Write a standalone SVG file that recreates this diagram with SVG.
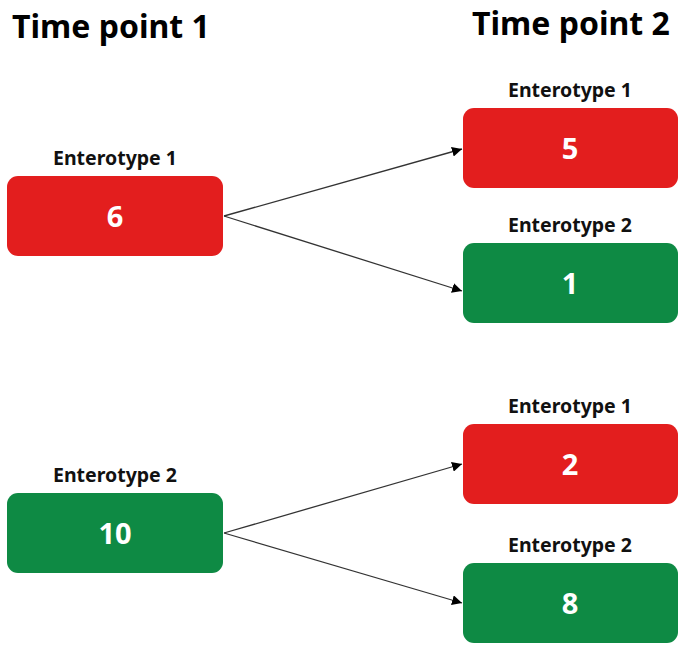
<svg xmlns="http://www.w3.org/2000/svg" width="686" height="649" viewBox="0 0 686 649">
<defs>
<style>
.title{font-family:"Noto Sans","Liberation Sans",sans-serif;font-weight:bold;font-size:32px;fill:#000}
.lbl{font-family:"Noto Sans","Liberation Sans",sans-serif;font-weight:bold;font-size:19.5px;fill:#111;text-anchor:middle}
.num{font-family:"Noto Sans","Liberation Sans",sans-serif;font-weight:bold;font-size:29px;fill:#fff;text-anchor:middle}
.red{fill:#E31E1E}
.green{fill:#0E8A44}
.conn{stroke:#333;stroke-width:1.3;fill:none;marker-end:url(#ah)}
</style>
<marker id="ah" viewBox="0 0 10 10" refX="10" refY="5" markerWidth="10" markerHeight="10" markerUnits="userSpaceOnUse" orient="auto">
<path d="M0,0 L10,5 L0,10 z" fill="#000"/>
</marker>
</defs>
<rect width="686" height="649" fill="#fff"/>
<text class="title" x="12" y="38">Time point 1</text>
<text class="title" x="472" y="35">Time point 2</text>
<g id="connectors">
<line class="conn" x1="224" y1="216" x2="462" y2="149"/>
<line class="conn" x1="224" y1="216" x2="462" y2="291"/>
<line class="conn" x1="224" y1="533" x2="462" y2="464"/>
<line class="conn" x1="224" y1="533" x2="462" y2="603"/>
</g>
<g id="t1-e1">
<text class="lbl" x="115" y="165">Enterotype 1</text>
<rect class="red" x="7" y="176" width="216" height="80" rx="11"/>
<text class="num" x="115" y="227">6</text>
</g>
<g id="t1-e2">
<text class="lbl" x="115" y="482">Enterotype 2</text>
<rect class="green" x="7" y="493" width="216" height="80" rx="11"/>
<text class="num" x="115" y="544">10</text>
</g>
<g id="t2-a-e1">
<text class="lbl" x="570" y="97">Enterotype 1</text>
<rect class="red" x="463" y="108" width="215" height="80" rx="11"/>
<text class="num" x="570" y="159">5</text>
</g>
<g id="t2-a-e2">
<text class="lbl" x="570" y="232">Enterotype 2</text>
<rect class="green" x="463" y="243" width="215" height="80" rx="11"/>
<text class="num" x="570" y="294">1</text>
</g>
<g id="t2-b-e1">
<text class="lbl" x="570" y="413">Enterotype 1</text>
<rect class="red" x="463" y="424" width="215" height="80" rx="11"/>
<text class="num" x="570" y="475">2</text>
</g>
<g id="t2-b-e2">
<text class="lbl" x="570" y="552">Enterotype 2</text>
<rect class="green" x="463" y="563" width="215" height="80" rx="11"/>
<text class="num" x="570" y="614">8</text>
</g>
</svg>
